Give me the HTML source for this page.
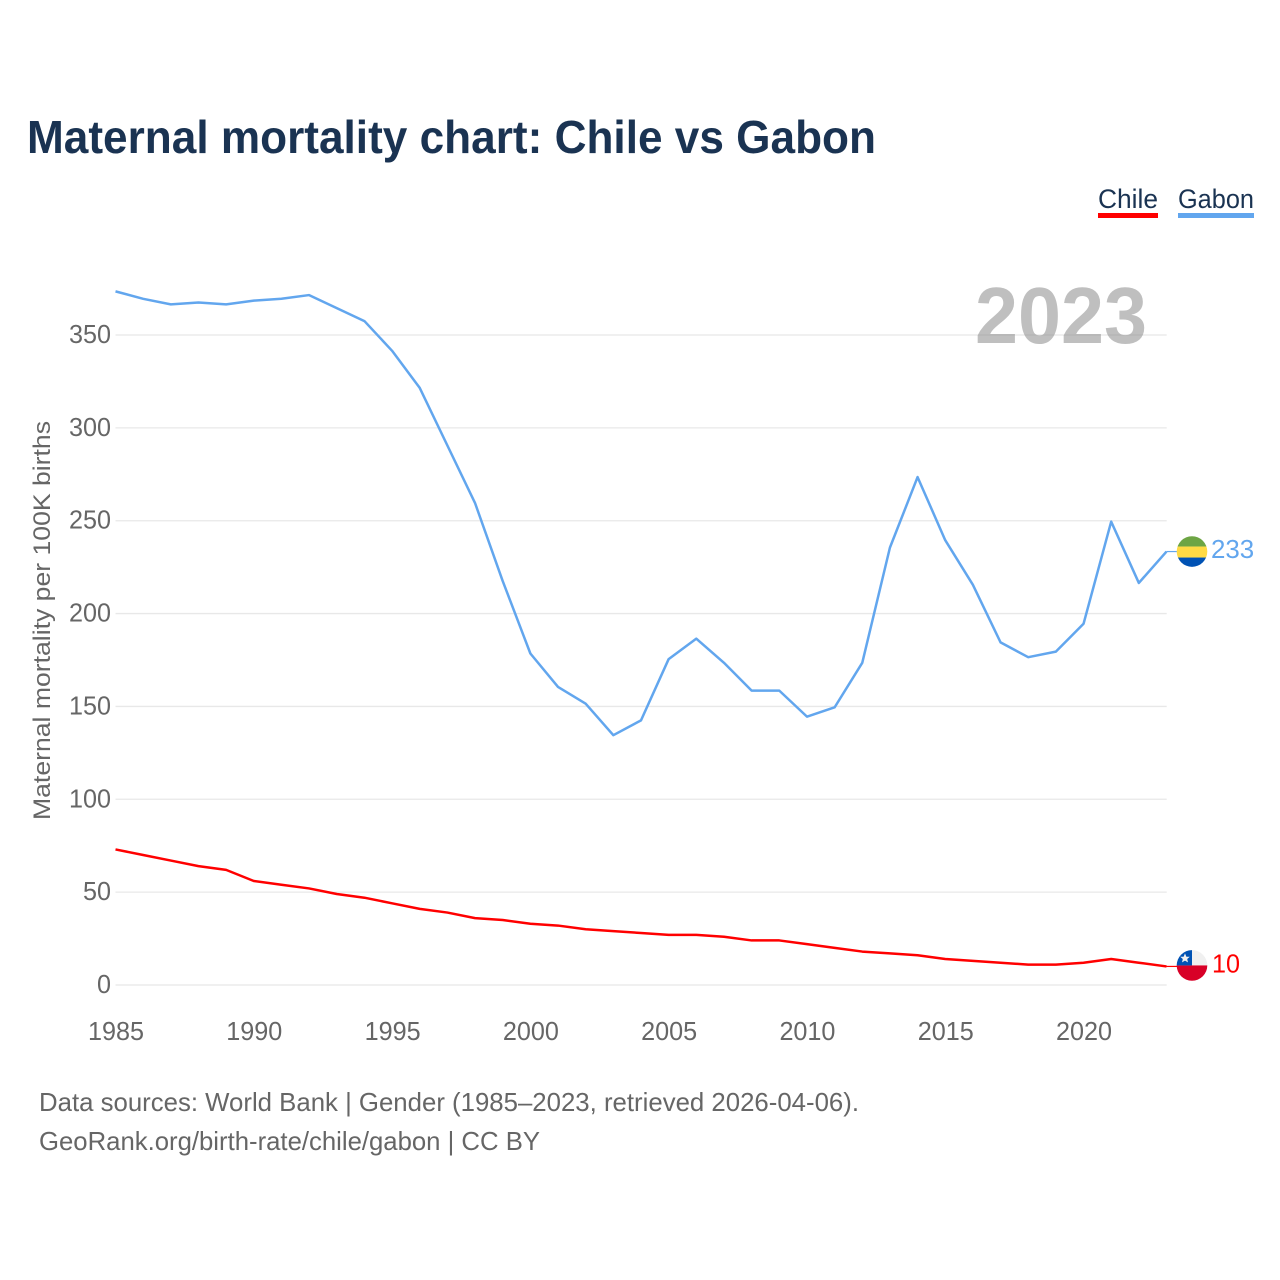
<!DOCTYPE html>
<html lang="en">
<head>
<meta charset="utf-8">
<title>Maternal mortality chart: Chile vs Gabon</title>
<style>
html,body{margin:0;padding:0;background:#fff;width:1280px;height:1280px;overflow:hidden}
svg{display:block}
text{font-family:"Liberation Sans",sans-serif}
</style>
</head>
<body>
<svg id="chart" width="1280" height="1280" viewBox="0 0 1280 1280" xmlns="http://www.w3.org/2000/svg">
  <defs>
    <clipPath id="flag-clip"><circle cx="0" cy="0" r="15.3"/></clipPath>
  </defs>
  <rect width="1280" height="1280" fill="#fff"/>
  <text x="27" y="153" font-size="46" font-weight="700" fill="#1a3352" textLength="849" lengthAdjust="spacingAndGlyphs">Maternal mortality chart: Chile vs Gabon</text>
  <g id="grid"></g>
  <g id="yticks"></g>
  <g id="xticks"></g>
  <text transform="translate(50,820) rotate(-90)" font-size="24" fill="#666" textLength="399" lengthAdjust="spacingAndGlyphs">Maternal mortality per 100K births</text>
  <g>
    <text x="1098" y="208" font-size="27" fill="#1a3352" textLength="60" lengthAdjust="spacingAndGlyphs">Chile</text>
    <rect x="1098" y="213" width="60" height="5" fill="#ff0000"/>
  </g>
  <g>
    <text x="1178" y="208" font-size="27" fill="#1a3352" textLength="76" lengthAdjust="spacingAndGlyphs">Gabon</text>
    <rect x="1178" y="213" width="76" height="5" fill="#62a6ee"/>
  </g>
  <text id="year" x="1147" y="343" font-size="80" font-weight="700" fill="#808080" fill-opacity="0.5" text-anchor="end" textLength="172" lengthAdjust="spacingAndGlyphs">2023</text>
  <g id="series"></g>
  <g id="ends"></g>
  <text x="39" y="1111" font-size="26" fill="#666" textLength="820" lengthAdjust="spacingAndGlyphs">Data sources: World Bank | Gender (1985–2023, retrieved 2026-04-06).</text>
  <text x="39" y="1150" font-size="26" fill="#666" textLength="501" lengthAdjust="spacingAndGlyphs">GeoRank.org/birth-rate/chile/gabon | CC BY</text>
</svg>
<script>
const years = [1985,1986,1987,1988,1989,1990,1991,1992,1993,1994,1995,1996,1997,1998,1999,2000,2001,2002,2003,2004,2005,2006,2007,2008,2009,2010,2011,2012,2013,2014,2015,2016,2017,2018,2019,2020,2021,2022,2023];
const chileValues = [73,70,67,64,62,56,54,52,49,47,44,41,39,36,35,33,32,30,29,28,27,27,26,24,24,22,20,18,17,16,14,13,12,11,11,12,14,12,10];
const gabonValues = [373.5,369.5,366.5,367.5,366.5,368.5,369.5,371.5,364.5,357.5,341.5,321.5,290.5,259.5,217.5,178.5,160.5,151.5,134.5,142.5,175.5,186.5,173.5,158.5,158.5,144.5,149.5,173.5,235.5,273.5,239.5,215.5,184.5,176.5,179.5,194.5,249.5,216.5,233.4];
const yTickValues = [0,50,100,150,200,250,300,350];
const xTickValues = [1985,1990,1995,2000,2005,2010,2015,2020];

const NS = 'http://www.w3.org/2000/svg';
const xScale = function (year) { return 115.5 + (year - 1985) * (1166.5 - 115.5) / 38; };
const yScale = function (value) { return 985 - value * (985 - 335) / 350; };

function make(tag, attrs, parent) {
  const el = document.createElementNS(NS, tag);
  for (const k in attrs) el.setAttribute(k, attrs[k]);
  parent.appendChild(el);
  return el;
}

const grid = document.getElementById('grid');
const yticks = document.getElementById('yticks');
const xticks = document.getElementById('xticks');
const seriesGroup = document.getElementById('series');
const ends = document.getElementById('ends');

yTickValues.forEach(function (v) {
  const line = make('line', {x1: 115.5, x2: 1166.7, y1: yScale(v), y2: yScale(v), stroke: '#e8e8e8', 'stroke-width': 1.3}, grid);
  
  
  const text = String(v);
  const label = make('text', {x: 111, y: yScale(v) + 8, 'font-size': 26, fill: '#666', 'text-anchor': 'end', textLength: text.length * 14, lengthAdjust: 'spacingAndGlyphs'}, yticks);
  
  
  label.textContent = text;
});

xTickValues.forEach(function (t) {
  const label = make('text', {x: xScale(t) + 0.5, y: 1040, 'font-size': 26, fill: '#666', 'text-anchor': 'middle', textLength: 56, lengthAdjust: 'spacingAndGlyphs'}, xticks);
  
  
  label.textContent = String(t);
});

function linePoints(values) {
  return values.map(function (v, i) { return xScale(years[i]).toFixed(2) + ',' + yScale(v).toFixed(2); }).join(' ');
}

const gabonLine = make('polyline', {points: linePoints(gabonValues), fill: 'none', stroke: '#62a6ee', 'stroke-width': 2.5, 'stroke-linejoin': 'round'}, seriesGroup);



const chileLine = make('polyline', {points: linePoints(chileValues), fill: 'none', stroke: '#ff0000', 'stroke-width': 2.5, 'stroke-linejoin': 'round'}, seriesGroup);



function endMarker(values, color, offset, labelX, labelOffset) {
  const last = values[values.length - 1];
  const y = yScale(last);
  const g = make('g', {}, ends);
  const tail = make('line', {x1: 1166.5, x2: 1177, y1: y, y2: y, stroke: color, 'stroke-width': 1.2}, g);
  
  
  const flag = make('g', {transform: 'translate(1192,' + (y + offset) + ')', 'clip-path': 'url(#flag-clip)'}, g);
  const text = String(Math.round(last));
  const label = make('text', {x: labelX, y: y + labelOffset, 'font-size': 26, fill: color, textLength: text.length * (text.length > 2 ? 14.4 : 14), lengthAdjust: 'spacingAndGlyphs'}, g);
  
  
  label.textContent = text;
  return flag;
}

const gabonFlag = endMarker(gabonValues, '#62a6ee', 0, 1211, 6.5);


make('rect', {x: -16, y: -16, width: 32, height: 11, fill: '#6da544'}, gabonFlag);
make('rect', {x: -16, y: -5, width: 32, height: 11, fill: '#ffda44'}, gabonFlag);
make('rect', {x: -16, y: 6, width: 32, height: 10, fill: '#0052b4'}, gabonFlag);

const chileFlag = endMarker(chileValues, '#ff0000', -1, 1212, 6);


make('rect', {x: -16, y: -16, width: 32, height: 16, fill: '#f0f0f0'}, chileFlag);
make('rect', {x: -16, y: 0, width: 32, height: 16, fill: '#d80027'}, chileFlag);
make('rect', {x: -16, y: -16, width: 16, height: 16, fill: '#0052b4'}, chileFlag);
make('polygon', {points: '-7,-12 -5.6,-8.7 -2.2,-8.7 -4.8,-6.4 -4,-3 -7,-4.8 -10,-3 -9.2,-6.4 -11.8,-8.7 -8.4,-8.7', fill: '#f0f0f0'}, chileFlag);
</script>
</body>
</html>
